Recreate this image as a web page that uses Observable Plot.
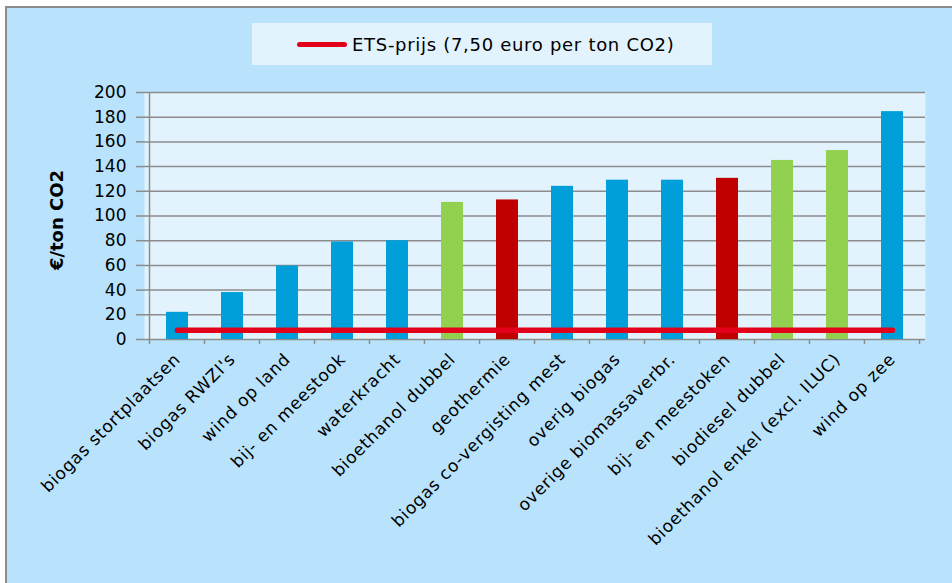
<!DOCTYPE html>
<html>
<head>
<meta charset="utf-8">
<script src="https://cdn.jsdelivr.net/npm/d3@7"></script>
<script src="https://cdn.jsdelivr.net/npm/@observablehq/plot@0.6"></script>
<style>
  html, body { margin: 0; padding: 0; background: #ffffff; }
  #wrap { position: relative; width: 952px; height: 583px; overflow: hidden; background: #ffffff;
          font-family: "DejaVu Sans", sans-serif; }
  #frame { position: absolute; left: 5px; top: 6px; width: 1000px; height: 1000px;
           border: 2px solid #8c8c8c; background: #b9e3fc; }
  #legend { position: absolute; left: 252px; top: 23px; width: 460px; height: 42px; background: #e2f3fd;
            display: flex; align-items: center; }
  #legend .sw { margin-left: 45px; width: 50px; height: 5px; border-radius: 3px; background: #e3001b; }
  #legend .lb { margin-left: 5px; font-size: 18px; color: #000; letter-spacing: 0.7px; }
  #chart { position: absolute; left: 0; top: 75px; }
  #chart g[aria-label="x-axis tick label"] text { letter-spacing: 0.7px; }
</style>
</head>
<body>
<div id="wrap">
  <div id="frame"></div>
  <div id="legend"><div class="sw"></div><div class="lb">ETS-prijs (7,50 euro per ton CO2)</div></div>
  <div id="chart"></div>
</div>
<script>
const categories = [
  "biogas stortplaatsen", "biogas RWZI's", "wind op land", "bij- en meestook", "waterkracht",
  "bioethanol dubbel", "geothermie", "biogas co-vergisting mest", "overig biogas",
  "overige biomassaverbr.", "bij- en meestoken", "biodiesel dubbel",
  "bioethanol enkel (excl. ILUC)", "wind op zee"
];
const values = [22, 38, 59.5, 79, 80, 111, 113, 124, 129, 129, 130.5, 145, 153, 184.5];
const groups = ["blauw", "blauw", "blauw", "blauw", "blauw", "groen", "rood", "blauw", "blauw",
                "blauw", "rood", "groen", "groen", "blauw"];
const etsPrice = 7.5;
const yTicks = [0, 20, 40, 60, 80, 100, 120, 140, 160, 180, 200];

const data = categories.map((c, i) => ({cat: c, val: values[i], grp: groups[i]}));
const ets = categories.map(c => ({cat: c, val: etsPrice}));
const groupDomain = ["blauw", "groen", "rood"];
const groupColors = ["#009fda", "#92d050", "#c00000"];

function categoryAxisLines(index, scales, values, dims) {
  const x = scales.x;
  const bw = x.bandwidth ? x.bandwidth() : 0;
  const centers = categories.map(c => x(c) + bw / 2);
  const step = centers[1] - centers[0];
  const y0 = dims.height - dims.marginBottom;
  const yTop = dims.marginTop;
  const left = centers[0] - step / 2;
  const g = d3.create("svg:g").attr("stroke", "#8c8c8c").attr("stroke-width", 1.5);
  g.append("line").attr("x1", left).attr("x2", left).attr("y1", yTop).attr("y2", y0 + 5);
  centers.forEach(cx => {
    g.append("line").attr("x1", cx + step / 2).attr("x2", cx + step / 2).attr("y1", y0).attr("y2", y0 + 5);
  });
  return g.node();
}

const plot = Plot.plot({
  width: 952,
  height: 508,
  marginTop: 17,
  marginBottom: 244,
  marginLeft: 144,
  marginRight: 27,
  style: { background: "transparent", fontFamily: "'DejaVu Sans', sans-serif", fontSize: "17px", color: "#000" },
  x: { domain: categories, paddingInner: 0.6, paddingOuter: 0.3, label: null },
  y: { domain: [0, 200], label: null },
  color: { domain: groupDomain, range: groupColors },
  marks: [
    Plot.frame({ fill: "#e2f3fd", stroke: null }),
    Plot.ruleY(yTicks, { stroke: "#8c8c8c", strokeWidth: 1.5, strokeOpacity: 1 }),
    categoryAxisLines,
    Plot.axisY({ ticks: yTicks, tickSize: 8, tickPadding: 10, stroke: "#8c8c8c", strokeWidth: 1.5, fontSize: 17, label: null }),
    Plot.axisX({ tickSize: 0, tickPadding: 17, tickRotate: -45, fontSize: 17, label: null }),
    Plot.barY(data, { x: "cat", y: "val", fill: "grp" }),
    Plot.lineY(ets, { x: "cat", y: "val", stroke: "#e3001b", strokeWidth: 5.5, strokeLinecap: "round" }),
    Plot.text(["€/ton CO2"], { frameAnchor: "left", textAnchor: "middle", text: d => d, rotate: -90, dx: -87, dy: 4, fontWeight: "bold", fontSize: 18 })
  ]
});
document.getElementById("chart").appendChild(plot);
</script>
</body>
</html>
